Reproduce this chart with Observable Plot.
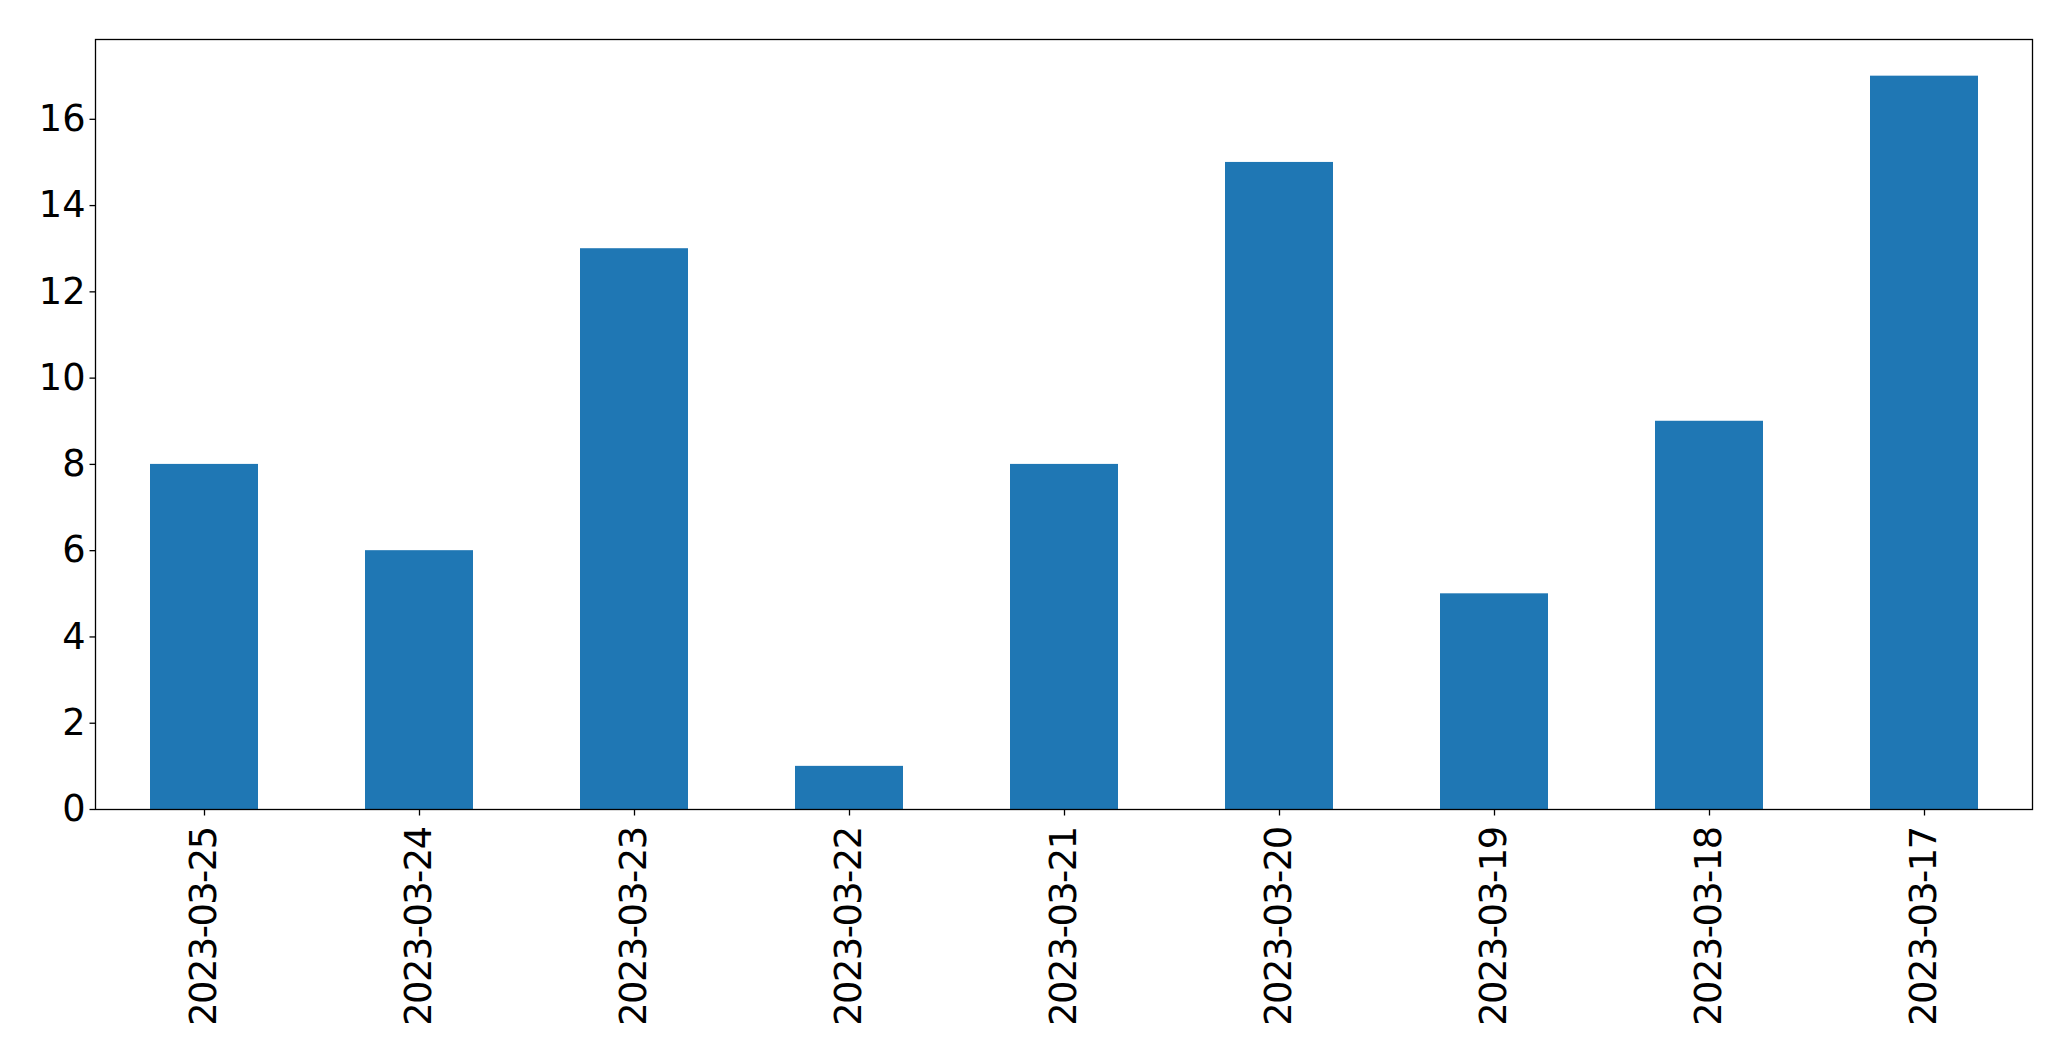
<!DOCTYPE html>
<html>
<head>
<meta charset="utf-8">
<script src="https://cdn.jsdelivr.net/npm/d3@7"></script>
<script src="https://cdn.jsdelivr.net/npm/@observablehq/plot@0.6"></script>
<style>
  html, body { margin: 0; padding: 0; background: #fff; }
  svg { display: block; }
</style>
</head>
<body>
<div id="chart"></div>
<script>
const dates = ["2023-03-25", "2023-03-24", "2023-03-23", "2023-03-22", "2023-03-21", "2023-03-20", "2023-03-19", "2023-03-18", "2023-03-17"];
const counts = [8, 6, 13, 1, 8, 15, 5, 9, 17];
const yTicks = [0, 2, 4, 6, 8, 10, 12, 14, 16];

const data = dates.map((d, i) => ({date: d, count: counts[i]}));

const chart = Plot.plot({
  width: 2071,
  height: 1061,
  marginLeft: 95,
  marginRight: 39,
  marginTop: 39,
  marginBottom: 252,
  style: {fontFamily: "DejaVu Sans", fontSize: "36.7px", color: "#000", background: "#fff"},
  x: {domain: dates, paddingInner: 0.5, paddingOuter: 0.25, label: null},
  y: {domain: [0, 17.85], label: null},
  marks: [
    Plot.barY(data, {x: "date", y: "count", fill: "#1f77b4"}),
    Plot.frame({stroke: "#000", strokeWidth: 1.3}),
    Plot.axisY({ticks: yTicks, tickSize: 5.5, tickPadding: 4.5, label: null, stroke: "#000", strokeWidth: 1.3}),
    Plot.axisX({tickRotate: -90, tickSize: 6.5, tickPadding: 11.5, label: null, stroke: "#000", strokeWidth: 1.3})
  ]
});
d3.select(chart).selectAll('g[aria-label="x-axis tick label"] text').attr("letter-spacing", "-1.5px");
document.getElementById("chart").appendChild(chart);
</script>
</body>
</html>
